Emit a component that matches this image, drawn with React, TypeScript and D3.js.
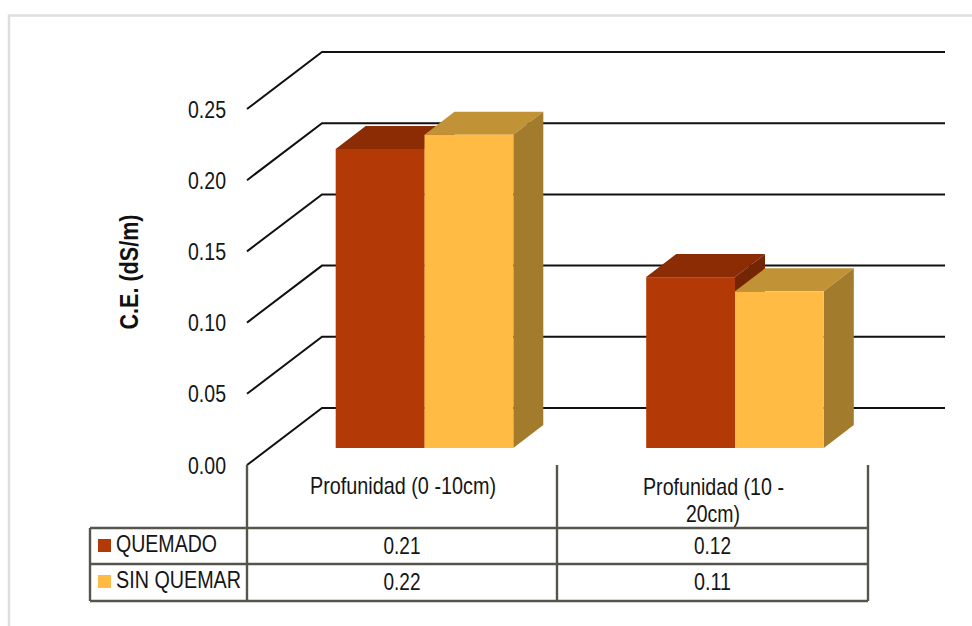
import React from "react";
import * as d3 from "d3";

const categories = ["Profunidad (0 -10cm)", "Profunidad (10 -\n20cm)"];
const seriesNames = ["QUEMADO", "SIN QUEMAR"];
const quemado = [0.21, 0.12];
const sinQuemar = [0.22, 0.11];
const cellLabels = [["0.21", "0.12"], ["0.22", "0.11"]];
const ticks = [0, 0.05, 0.1, 0.15, 0.2, 0.25];

const W = 972;
const H = 626;
const FONT = "'Liberation Sans', Arial, sans-serif";
const TEXT = "#151515";
const SIZE = 24;

const frontFill = ["#B33A06", "#FFBB44"];
const topFill = ["#8B2C04", "#C29236"];
const sideFill = ["#742503", "#A37B2D"];

// Axis scale on the front plane of the chart box
const yFront = d3.scaleLinear().domain([0, 0.25]).range([465, 109]);
// Depth of the box floor and of each bar
const wallDx = 75;
const wallDy = -57;
const barDx = 30;
const barDy = -23;
const barBase = 448;
const barHeight = d3.scaleLinear().domain([0, 0.25]).range([0, 356]);

const groupX = d3.scaleBand<number>().domain([0, 1]).range([247, 868]).paddingInner(0).paddingOuter(0);
const barW = 88.8;
const groupInset = 88.7;

const line = d3.line<[number, number]>();

const tableX = [90, 247, 557, 868];
const tableY = [528, 564, 601];

function Bar({ x, v, s }: { x: number; v: number; s: number }) {
  const top = barBase - barHeight(v);
  const r = x + barW;
  const face = (pts: [number, number][], fill: string) => (
    <path d={line(pts) + "Z"} fill={fill} />
  );
  return (
    <g>
      {face([[x, top], [x + barDx, top + barDy], [r + barDx, top + barDy], [r, top]], topFill[s])}
      {face([[r, top], [r + barDx, top + barDy], [r + barDx, barBase + barDy], [r, barBase]], sideFill[s])}
      <rect x={x} y={top} width={barW} height={barBase - top} fill={frontFill[s]} />
    </g>
  );
}

export default function App() {
  const values = [quemado, sinQuemar];
  return (
    <svg
      width={W}
      height={H}
      viewBox={`0 0 ${W} ${H}`}
      style={{ position: "absolute", left: 0, top: 0, background: "#fff" }}
      fontFamily={FONT}
    >
      {/* outer chart frame */}
      <path d={`M9 ${H}V15.5H${W}`} fill="none" stroke="#DEDEDE" strokeWidth={2.5} />

      {/* walls of the 3D box */}
      {ticks.map((t) => {
        const y = yFront(t);
        return (
          <path
            key={t}
            d={`M247 ${y}L${247 + wallDx} ${y + wallDy}H945`}
            fill="none"
            stroke="#111"
            strokeWidth={2}
          />
        );
      })}

      {/* axis tick labels */}
      {ticks.map((t) => (
        <text key={t} x={226} y={yFront(t) + 8.5} textAnchor="end" fontSize={SIZE} fill={TEXT} textLength={38} lengthAdjust="spacingAndGlyphs">
          {t.toFixed(2)}
        </text>
      ))}
      <text
        transform="translate(137.5,272) rotate(-90)"
        textAnchor="middle"
        fontSize={25}
        fontWeight="bold"
        fill="#111"
        textLength={115}
        lengthAdjust="spacingAndGlyphs"
      >
        C.E. (dS/m)
      </text>

      {/* bars, group by group, left series first so the right one overlaps it */}
      {categories.map((_, i) => {
        const gx = groupX(i)! + groupInset;
        return (
          <g key={i}>
            <Bar x={gx} v={values[0][i]} s={0} />
            <Bar x={gx + barW} v={values[1][i]} s={1} />
          </g>
        );
      })}

      {/* data table rules */}
      <g fill="none" stroke="#55554B" strokeWidth={2.4}>
        <path d={`M${tableX[0]} ${tableY[0]}H${tableX[3]}M${tableX[0]} ${tableY[1]}H${tableX[3]}M${tableX[0]} ${tableY[2]}H${tableX[3]}`} />
        <path d={`M${tableX[0]} ${tableY[0]}V${tableY[2]}`} />
        {tableX.slice(1).map((x) => (
          <path key={x} d={`M${x} 465V${tableY[2]}`} />
        ))}
      </g>

      {/* category headers */}
      <text x={403} y={494} textAnchor="middle" fontSize={SIZE} fill={TEXT} textLength={186} lengthAdjust="spacingAndGlyphs">
        {categories[0]}
      </text>
      <text x={643} y={495} fontSize={SIZE} fill={TEXT} textLength={141} lengthAdjust="spacingAndGlyphs">
        {categories[1].split("\n")[0]}
      </text>
      <text x={713} y={522} textAnchor="middle" fontSize={SIZE} fill={TEXT} textLength={54} lengthAdjust="spacingAndGlyphs">
        {categories[1].split("\n")[1]}
      </text>

      {/* legend keys and values in the table */}
      {seriesNames.map((name, s) => {
        const baseline = [552, 588][s];
        return (
          <g key={name}>
            <rect x={98} y={[539, 575][s]} width={13} height={13} fill={frontFill[s]} />
            <text x={116} y={baseline} fontSize={SIZE} fill={TEXT} textLength={[101, 125][s]} lengthAdjust="spacingAndGlyphs">
              {name}
            </text>
            {cellLabels[s].map((c, i) => (
              <text key={i} x={(tableX[i + 1] + tableX[i + 2]) / 2} y={baseline + 2} textAnchor="middle" fontSize={SIZE} fill={TEXT} textLength={37} lengthAdjust="spacingAndGlyphs">
                {c}
              </text>
            ))}
          </g>
        );
      })}
    </svg>
  );
}
